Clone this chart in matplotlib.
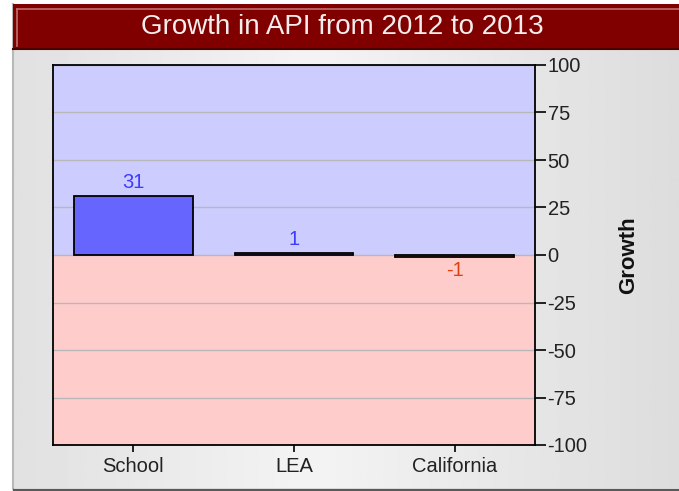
import numpy as np
import matplotlib
matplotlib.use('Agg')
import matplotlib.pyplot as plt
from matplotlib.patches import Rectangle

# data
categories = ['School', 'LEA', 'California']
growth = [31, 1, -1]
y_ticks = [-100, -75, -50, -25, 0, 25, 50, 75, 100]
title = 'Growth in API from 2012 to 2013'

plt.rcParams['font.family'] = ['Liberation Sans', 'DejaVu Sans']

W, H = 679, 491
fig = plt.figure(figsize=(W / 100, H / 100), dpi=100)
fig.patch.set_facecolor('white')

# frame / background in pixel coords
bg = fig.add_axes([0, 0, 1, 1])
bg.set_xlim(0, W)
bg.set_ylim(H, 0)
bg.axis('off')

# horizontal gray gradient of the panel
xs = np.linspace(0, 1, 300)
shade = 0.955 - 0.09 * np.abs(xs - 0.45) / 0.55
grad = np.tile(shade, (2, 1))
bg.imshow(grad, cmap='gray', vmin=0, vmax=1, aspect='auto',
          extent=[13, W, 488, 49], zorder=0)
bg.plot([13, 13], [4, 488], color='#b8b8b8', lw=1.5)
bg.plot([14, W], [489.5, 489.5], color='#5a5a5a', lw=2.5)

# title band
bg.add_patch(Rectangle((13, 4), W - 13, 45, facecolor='#800000',
                       edgecolor='none', zorder=2))
bg.plot([17, W], [8.5, 8.5], color='#c07070', lw=1.2, zorder=3)
bg.plot([17, 17], [8.5, 46], color='#c07070', lw=1.2, zorder=3)
bg.plot([13, W], [48.5, 48.5], color='#4a0000', lw=1.5, zorder=3)
bg.text(342, 27, title, color='#f6eeee', fontsize=20,
        ha='center', va='center', zorder=4)

# main chart
ax = fig.add_axes([53 / W, 1 - 445 / H, 482 / W, 380 / H])
ax.set_facecolor('none')
x = np.arange(len(categories))
ax.set_xlim(-0.5, len(categories) - 0.5)
ax.set_ylim(-100, 100)
ax.axhspan(0, 100, color='#ccccff', zorder=0, lw=0)
ax.axhspan(-100, 0, color='#ffcccc', zorder=0, lw=0)
ax.set_axisbelow('line')
ax.yaxis.grid(True, color='#b8b8b8', lw=1)

colors = ['#6666ff' if v >= 0 else '#ff6666' for v in growth]
ax.bar(x, growth, width=0.74, color=colors, edgecolor='black', lw=1.3, zorder=3)
for xi, v in zip(x, growth):
    if v >= 0:
        ax.annotate(str(v), (xi, v), xytext=(0, 3), textcoords='offset points',
                    ha='center', va='bottom', color='#3c3cff', fontsize=14.5)
    else:
        ax.annotate(str(v), (xi, v), xytext=(0, -3), textcoords='offset points',
                    ha='center', va='top', color='#e0400a', fontsize=14.5)

ax.set_xticks(x)
ax.set_xticklabels(categories, fontsize=14.5, color='#222222')
ax.set_yticks(y_ticks)
ax.set_yticklabels([str(t) for t in y_ticks], fontsize=14.5, color='#222222')
ax.yaxis.tick_right()
ax.yaxis.set_label_position('right')
ax.tick_params(axis='y', direction='out', length=8, width=1.2, pad=1)
ax.tick_params(axis='x', direction='out', length=5, width=1.2, pad=4)
ax.set_ylabel('Growth', fontsize=16, fontweight='bold', color='#111111')
ax.yaxis.set_label_coords((618 - 53) / 482, 0.5)
for s in ax.spines.values():
    s.set_linewidth(1.3)
    s.set_zorder(5)

fig.savefig('out.png', dpi=100)
